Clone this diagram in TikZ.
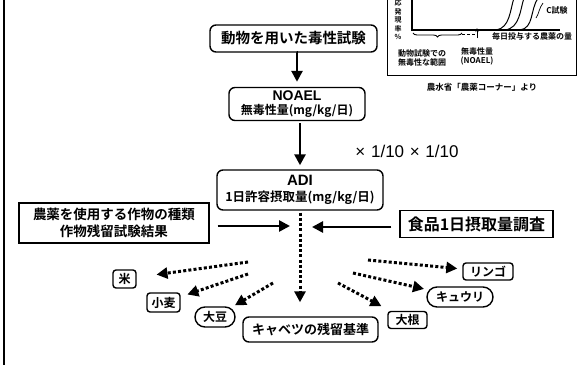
\documentclass[tikz,border=0pt]{standalone}
\usepackage{fontspec}
\setmainfont{Noto Sans CJK JP}[BoldFont={Noto Sans CJK JP Bold}]
\newfontfamily\lat{Liberation Sans}
\usetikzlibrary{arrows.meta,decorations.pathreplacing,shapes.misc}
\tikzset{
  box/.style={draw, line width=1.4pt, inner sep=0pt, align=center, font=\bfseries},
  rbox/.style={box, rounded corners=6pt},
  crop/.style={box, rounded corners=3pt, font=\bfseries\fontsize{12}{13}\selectfont},
  ocrop/.style={box, rounded rectangle, font=\bfseries\fontsize{12}{13}\selectfont},
  flow/.style={line width=2.6pt, -{Triangle[length=11pt,width=11pt]}},
  dots/.style={line width=3pt, dash pattern=on 3pt off 2.2pt, -{Triangle[length=11pt,width=11pt]}},
  tiny/.style={font=\bfseries\fontsize{8}{9}\selectfont, inner sep=0pt, align=center},
}
\begin{document}
\begin{tikzpicture}[x=1pt,y=-1pt]
\useasboundingbox (0,0) rectangle (582,365);
\draw[line width=1.5pt] (4,0) -- (4,365);
% inset graph
\draw[line width=1pt] (387,-2) -- (387,75) -- (576,75) -- (576,-2);
\draw[line width=1.1pt] (412,-2) -- (412,30) -- (560,30);
\draw[line width=1pt] (496,30) .. controls (510,28) and (510,10) .. (514,-2);
\draw[line width=1pt] (505,30) .. controls (520,28) and (520,10) .. (524,-2);
\draw[line width=1pt] (520,30) .. controls (534,28) and (530,10) .. (538,-2);
\node[tiny] (cs) at (557,10) {C試験};
\draw[line width=0.7pt] (543,3) .. controls (539,8) and (539,14) .. (536,18);
\node[tiny, font=\bfseries\fontsize{7}{8.5}\selectfont] (yl) at (398,20) {応\\発\\現\\率\\\%};
\draw[line width=0.9pt, decorate, decoration={brace, mirror, amplitude=4pt}] (413,33) -- (462,33);
\draw[line width=0.9pt, densely dashed] (462,34) -- (476,34);
\draw[line width=0.9pt, -{Stealth[length=4pt]}] (477,38) -- (477,28);
\node[tiny] (rg) at (422,58) {動物試験での\\無毒性な範囲};
\node[tiny] (nl) at (477,56) {無毒性量\\(NOAEL)};
\node[tiny] (dose) at (532,36) {毎日投与する農薬の量};
\node[tiny, font=\bfseries\fontsize{8.5}{9}\selectfont] (src) at (482,87) {農水省「農薬コーナー」より};
% main flow
\node[rbox, minimum width=167pt, minimum height=27pt, font=\bfseries\fontsize{14.5}{16}\selectfont] (tox) at (293.5,38.5) {動物を用いた毒性試験};
\node[rbox, minimum width=136pt, minimum height=33pt] (noael) at (297,104) {{\lat\fontsize{14}{15}\selectfont NOAEL}\\[2pt]{\fontsize{12}{13}\selectfont 無毒性量(mg/kg/日)}};
\node[rbox, minimum width=166pt, minimum height=40pt] (adi) at (300,190) {{\lat\fontsize{15}{15}\selectfont ADI}\\[4pt]{\fontsize{12.5}{13}\selectfont 1日許容摂取量(mg/kg/日)}};
\node[font=\lat\fontsize{17}{18}\selectfont, inner sep=0pt] (fac) at (407,151) {×\,\,1/10\,\,×\,\,1/10};
\node[box, minimum width=190pt, minimum height=40pt, font=\bfseries\fontsize{13.5}{17}\selectfont] (left) at (114,223) {農薬を使用する作物の種類\\作物残留試験結果};
\node[box, minimum width=153pt, minimum height=27pt, font=\bfseries\fontsize{16}{17}\selectfont] (food) at (476.5,224) {食品1日摂取量調査};
\node[rbox, minimum width=135pt, minimum height=25pt, font=\bfseries\fontsize{13}{14}\selectfont] (cab) at (310.5,329.5) {キャベツの残留基準};
\node[crop, minimum width=23pt, minimum height=18pt] (kome) at (124.5,279) {米};
\node[crop, minimum width=33pt, minimum height=19pt] (komugi) at (163.5,302.5) {小麦};
\node[ocrop, minimum width=40pt, minimum height=20pt] (daizu) at (215,317) {大豆};
\node[crop, minimum width=50pt, minimum height=17pt] (ringo) at (488,271.5) {リンゴ};
\node[ocrop, minimum width=66pt, minimum height=20pt] (kyuri) at (460,297) {キュウリ};
\node[crop, minimum width=39pt, minimum height=17pt] (daikon) at (407.5,320) {大根};
\coordinate (jl) at (290,226);
\coordinate (jr) at (312,227);
\coordinate (s1) at (248,262);
\coordinate (s2) at (248,274);
\coordinate (s3) at (273,283);
\coordinate (s4) at (368,260);
\coordinate (s5) at (353,273);
\coordinate (s6) at (338,283);
\draw[flow, shorten <=3pt, shorten >=5pt] (tox.south) -- (tox.south -| noael.north) -- (noael.north);
\draw[flow, shorten <=2pt, shorten >=4pt] (noael.south -| adi.north) -- (adi.north);
\draw[flow, shorten <=8pt] (left.east |- jl) -- (jl);
\draw[flow, shorten <=8pt] (food.west |- jr) -- (jr);
\draw[dots, shorten <=2pt, shorten >=14pt] (adi.south) -- (adi.south |- cab.north);
\draw[dots, shorten >=20pt] (s1) -- (kome);
\draw[dots, shorten >=7pt] (s2) -- (komugi);
\draw[dots, shorten >=5pt] (s3) -- (daizu);
\draw[dots, shorten >=5pt] (s4) -- (ringo);
\draw[dots, shorten >=5pt] (s5) -- (kyuri);
\draw[dots, shorten >=10pt] (s6) -- (daikon);
\end{tikzpicture}
\end{document}
